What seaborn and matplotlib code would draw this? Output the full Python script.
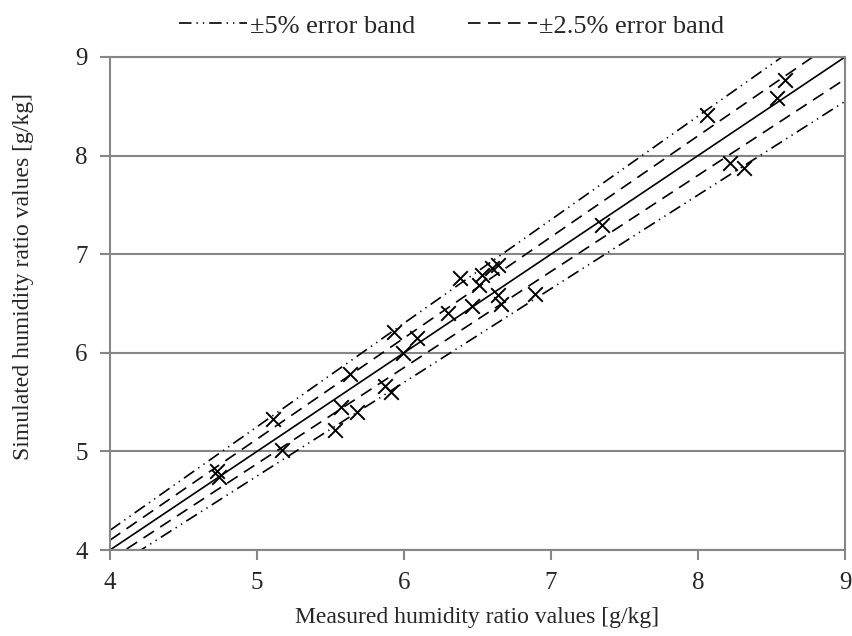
import numpy as np
import pandas as pd
import matplotlib
matplotlib.use("Agg")
import matplotlib.pyplot as plt
import seaborn as sns

# Measured vs simulated humidity ratio [g/kg]
measured = [4.73, 4.74, 5.11, 5.17, 5.53, 5.57, 5.63, 5.68, 5.87, 5.91,
            5.93, 5.99, 6.09, 6.30, 6.38, 6.46, 6.51, 6.53, 6.60, 6.64,
            6.64, 6.66, 6.89, 7.35, 8.06, 8.22, 8.31, 8.54, 8.59]
simulated = [4.80, 4.74, 5.33, 5.01, 5.22, 5.45, 5.78, 5.40, 5.66, 5.60,
             6.21, 6.00, 6.15, 6.40, 6.76, 6.47, 6.69, 6.79, 6.86, 6.89,
             6.59, 6.49, 6.60, 7.30, 8.41, 7.92, 7.87, 8.58, 8.77]

# Reference line and relative error bands
ref_x = [4.0, 9.0]
band_5 = 0.05
band_25 = 0.025
axis_ticks = [4, 5, 6, 7, 8, 9]

sns.set_theme(style="white")
plt.rcParams["font.family"] = ["Liberation Serif", "DejaVu Serif"]

fig = plt.figure(figsize=(8.52, 6.36), dpi=100)
ax = fig.add_axes([0.1291, 0.1352, 0.8627, 0.7752])

grid_col = "#868686"
for t in axis_ticks:
    ax.axhline(t, color=grid_col, lw=1.5, zorder=0)

bands = pd.DataFrame({
    "x": ref_x * 5,
    "y": [v * f for f in (1.0, 1 + band_25, 1 - band_25, 1 + band_5, 1 - band_5) for v in ref_x],
    "line": sum([[k] * 2 for k in ("1:1", "+2.5", "-2.5", "+5", "-5")], []),
})

dash_25 = (0, (7.5, 4.5))
dash_5 = (0, (7.5, 3, 0.8, 3, 0.8, 3))
styles = {"1:1": "-", "+2.5": dash_25, "-2.5": dash_25, "+5": dash_5, "-5": dash_5}
lw = 1.2
for name, sub in bands.groupby("line", sort=False):
    sns.lineplot(data=sub, x="x", y="y", ax=ax, color="black", lw=lw,
                 linestyle=styles[name], legend=False, zorder=2)

pts = pd.DataFrame({"measured": measured, "simulated": simulated})
sns.scatterplot(data=pts, x="measured", y="simulated", ax=ax, marker="x",
                s=110, color="black", linewidth=1.4, zorder=3, legend=False)

ax.set_xlim(4, 9)
ax.set_ylim(4, 9)
ax.set_xticks(axis_ticks)
ax.set_yticks(axis_ticks)
ax.set_xticklabels([str(t) for t in axis_ticks])
ax.set_yticklabels([str(t) for t in axis_ticks])
ax.tick_params(axis="both", which="major", labelsize=18, length=7, width=1.5,
               color=grid_col, direction="out", pad=9, bottom=True, left=True)
for side, sp in ax.spines.items():
    sp.set_color(grid_col)
    sp.set_linewidth(1.5)

ax.set_xlabel("Measured humidity ratio values [g/kg]", fontsize=17, labelpad=9)
ax.set_ylabel("Simulated humidity ratio values [g/kg]", fontsize=17)
ax.yaxis.set_label_coords(-0.103, 0.554)

handles = [
    plt.Line2D([], [], color="black", lw=lw, ls=dash_5),
    plt.Line2D([], [], color="black", lw=lw, ls=dash_25),
]
fig.legend(handles, ["\u00b15% error band", "\u00b12.5% error band"],
           loc="upper center", bbox_to_anchor=(0.53, 1.015), ncol=2,
           frameon=False, fontsize=19, handlelength=2.6, handletextpad=0.1,
           columnspacing=2.0)

fig.savefig("out.png", dpi=100)
